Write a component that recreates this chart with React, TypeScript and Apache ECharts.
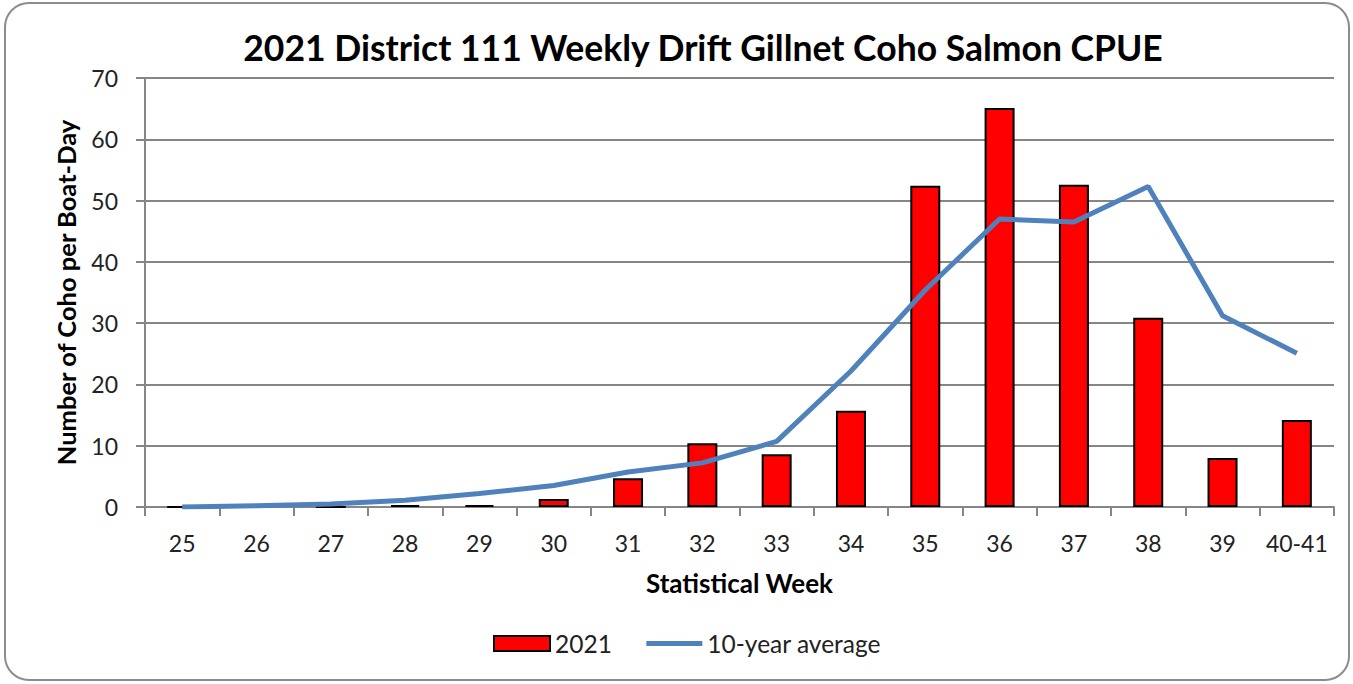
import React, { useEffect, useRef } from "react";
import * as echarts from "echarts";

const weeks = ["25", "26", "27", "28", "29", "30", "31", "32", "33", "34", "35", "36", "37", "38", "39", "40-41"];
const cpue2021 = [0, 0, 0, 0.3, 0.3, 1.3, 4.7, 10.4, 8.6, 15.7, 52.4, 65.1, 52.6, 30.9, 8.0, 14.2];
const tenYearAvg = [0, 0.2, 0.5, 1.1, 2.2, 3.5, 5.7, 7.2, 10.7, 22.2, 35.4, 47.0, 46.5, 52.3, 31.2, 25.1];

const titleText = "2021 District 111 Weekly Drift Gillnet Coho Salmon CPUE";
const FONT = "Lato, 'Noto Sans', sans-serif";

export default function App() {
  const ref = useRef<HTMLDivElement>(null);
  useEffect(() => {
    if (!ref.current) return;
    const chart = echarts.init(ref.current, null, { renderer: "svg" });
    chart.setOption({
      animation: false,
      backgroundColor: "#ffffff",
      textStyle: { fontFamily: FONT },
      graphic: [
        {
          type: "rect",
          shape: { x: 5, y: 3, width: 1344, height: 677, r: 24 },
          style: { fill: "none", stroke: "#8c8c8c", lineWidth: 2 },
          z: -1,
        },
        {
          type: "text",
          x: 703,
          y: 47,
          style: {
            text: titleText,
            font: `bold 35.5px ${FONT}`,
            fill: "#000",
            textAlign: "center",
            textVerticalAlign: "middle",
          },
        },
      ],
      legend: {
        left: 488,
        top: 626,
        itemWidth: 56,
        itemHeight: 15,
        itemGap: 32,
        textStyle: { fontSize: 24.5, color: "#222", fontFamily: FONT },
        data: [
          { name: "2021", icon: "rect" },
          { name: "10-year average", itemStyle: { opacity: 0 }, lineStyle: { width: 5, color: "#4f81bd" } },
        ],
      },
      grid: { left: 145, right: 19, top: 78, bottom: 177, containLabel: false },
      xAxis: {
        type: "category",
        data: weeks,
        name: "Statistical Week",
        nameLocation: "middle",
        nameGap: 63,
        nameTextStyle: { fontSize: 26, fontWeight: "bold", color: "#000", fontFamily: FONT },
        axisLine: { lineStyle: { color: "#868686", width: 2 } },
        axisTick: { show: true, length: 9, lineStyle: { color: "#868686", width: 2 } },
        axisLabel: { fontSize: 23, color: "#222", margin: 24, fontFamily: FONT, interval: 0 },
      },
      yAxis: {
        type: "value",
        min: 0,
        max: 70,
        interval: 10,
        name: "Number of Coho per Boat-Day",
        nameLocation: "middle",
        nameGap: 66,
        nameRotate: 90,
        nameTextStyle: { fontSize: 25.5, fontWeight: "bold", color: "#000", fontFamily: FONT },
        axisLine: { show: true, lineStyle: { color: "#868686", width: 2 } },
        axisTick: { show: true, length: 9, lineStyle: { color: "#868686", width: 2 } },
        axisLabel: { fontSize: 23, color: "#222", margin: 27, fontFamily: FONT },
        splitLine: { lineStyle: { color: "#868686", width: 2 } },
      },
      series: [
        {
          name: "2021",
          type: "bar",
          data: cpue2021,
          barWidth: 30,
          itemStyle: { color: "#ff0000", borderColor: "#000", borderWidth: 2 },
        },
        {
          name: "10-year average",
          type: "line",
          data: tenYearAvg,
          symbol: "none",
          lineStyle: { color: "#4f81bd", width: 5 },
          itemStyle: { color: "#4f81bd" },
          z: 3,
        },
      ],
    });
    return () => chart.dispose();
  }, []);
  return (
    <div
      ref={ref}
      style={{ position: "absolute", left: 0, top: 0, width: 1353, height: 684 }}
    />
  );
}
